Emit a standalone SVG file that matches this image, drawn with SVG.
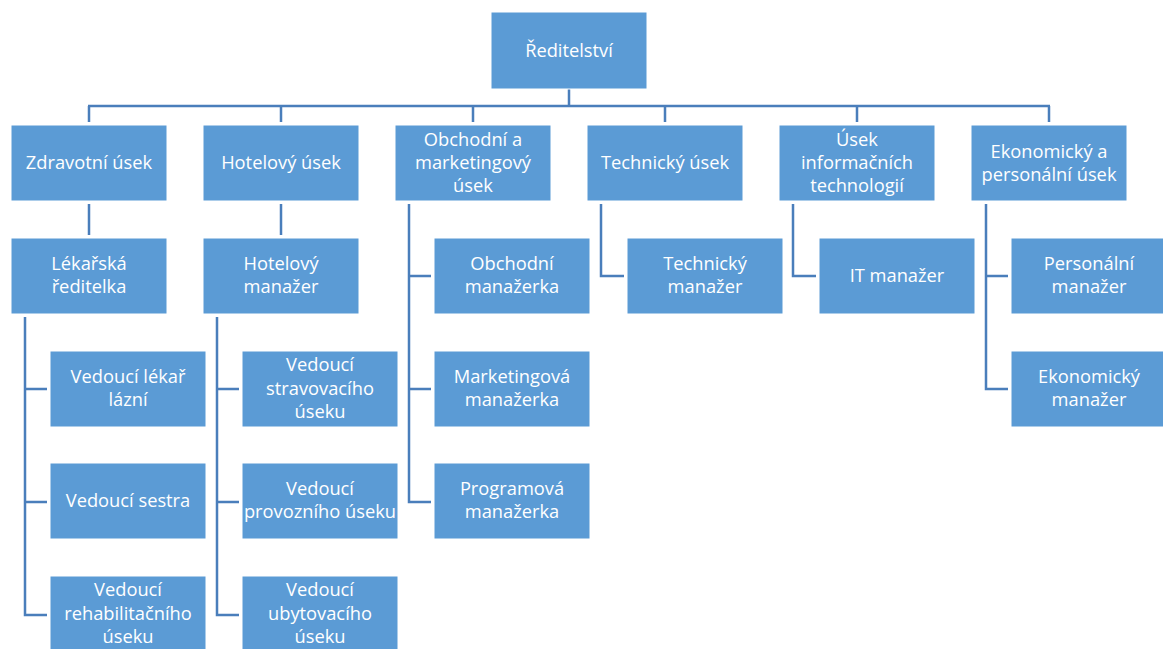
<svg xmlns="http://www.w3.org/2000/svg" width="1163" height="649" viewBox="0 0 1163 649">
<style>
.b{fill:#5B9BD5;stroke:#ffffff;stroke-width:1}
.t{font-family:"Open Sans","Liberation Sans",sans-serif;font-size:18.3px;fill:#ffffff;text-anchor:middle}
.c{fill:none;stroke:#4A7EBB;stroke-width:2.5}
</style>
<g id="connectors">
<path class="c" d="M569 89V106M88 106H1050M89 106V122M281 106V122M473 106V122M665 106V122M857 106V122M1049 106V122"/>
<path class="c" d="M89 204V235M281 204V235"/>
<path class="c" d="M25 317V615H47M25 389H47M25 502H47"/>
<path class="c" d="M217 317V615H239M217 389H239M217 502H239"/>
<path class="c" d="M409 204V502H431M409 276H431M409 389H431"/>
<path class="c" d="M601 204V276H624"/>
<path class="c" d="M793 204V276H816"/>
<path class="c" d="M986 204V389H1008M986 276H1008"/>
</g>
<g id="n-reditelstvi"><rect class="b" x="491" y="12" width="156" height="77"/><text class="t" x="569" y="57">Ředitelství</text></g>
<g id="n-zdravotni"><rect class="b" x="11" y="125" width="156" height="76"/><text class="t" x="89" y="169">Zdravotní úsek</text></g>
<g id="n-hotelovy"><rect class="b" x="203" y="125" width="156" height="76"/><text class="t" x="281" y="169">Hotelový úsek</text></g>
<g id="n-obchodni"><rect class="b" x="395" y="125" width="156" height="76"/><text class="t" x="473" y="146">Obchodní a</text><text class="t" x="473" y="169">marketingový</text><text class="t" x="473" y="192">úsek</text></g>
<g id="n-technicky"><rect class="b" x="587" y="125" width="156" height="76"/><text class="t" x="665" y="169">Technický úsek</text></g>
<g id="n-it"><rect class="b" x="779" y="125" width="156" height="76"/><text class="t" x="857" y="146">Úsek</text><text class="t" x="857" y="169">informačních</text><text class="t" x="857" y="192">technologií</text></g>
<g id="n-ekonomicky"><rect class="b" x="971" y="125" width="156" height="76"/><text class="t" x="1049" y="158">Ekonomický a</text><text class="t" x="1049" y="181">personální úsek</text></g>
<g id="n-lekarska"><rect class="b" x="11" y="238" width="156" height="76"/><text class="t" x="89" y="270">Lékařská</text><text class="t" x="89" y="293">ředitelka</text></g>
<g id="n-hotelovy-manazer"><rect class="b" x="203" y="238" width="156" height="76"/><text class="t" x="281" y="270">Hotelový</text><text class="t" x="281" y="293">manažer</text></g>
<g id="n-obchodni-manazerka"><rect class="b" x="434" y="238" width="156" height="76"/><text class="t" x="512" y="270">Obchodní</text><text class="t" x="512" y="293">manažerka</text></g>
<g id="n-technicky-manazer"><rect class="b" x="627" y="238" width="156" height="76"/><text class="t" x="705" y="270">Technický</text><text class="t" x="705" y="293">manažer</text></g>
<g id="n-it-manazer"><rect class="b" x="819" y="238" width="156" height="76"/><text class="t" x="897" y="282">IT manažer</text></g>
<g id="n-personalni"><rect class="b" x="1011" y="238" width="156" height="76"/><text class="t" x="1089" y="270">Personální</text><text class="t" x="1089" y="293">manažer</text></g>
<g id="n-vedouci-lekar"><rect class="b" x="50" y="351" width="156" height="76"/><text class="t" x="128" y="383">Vedoucí lékař</text><text class="t" x="128" y="406">lázní</text></g>
<g id="n-vedouci-sestra"><rect class="b" x="50" y="463" width="156" height="76"/><text class="t" x="128" y="507">Vedoucí sestra</text></g>
<g id="n-vedouci-rehab"><rect class="b" x="50" y="576" width="156" height="76"/><text class="t" x="128" y="596">Vedoucí</text><text class="t" x="128" y="620">rehabilitačního</text><text class="t" x="128" y="643">úseku</text></g>
<g id="n-vedouci-strav"><rect class="b" x="242" y="351" width="156" height="76"/><text class="t" x="320" y="371">Vedoucí</text><text class="t" x="320" y="395">stravovacího</text><text class="t" x="320" y="418">úseku</text></g>
<g id="n-vedouci-provoz"><rect class="b" x="242" y="463" width="156" height="76"/><text class="t" x="320" y="495">Vedoucí</text><text class="t" x="320" y="518">provozního úseku</text></g>
<g id="n-vedouci-ubyt"><rect class="b" x="242" y="576" width="156" height="76"/><text class="t" x="320" y="596">Vedoucí</text><text class="t" x="320" y="620">ubytovacího</text><text class="t" x="320" y="643">úseku</text></g>
<g id="n-marketingova"><rect class="b" x="434" y="351" width="156" height="76"/><text class="t" x="512" y="383">Marketingová</text><text class="t" x="512" y="406">manažerka</text></g>
<g id="n-programova"><rect class="b" x="434" y="463" width="156" height="76"/><text class="t" x="512" y="495">Programová</text><text class="t" x="512" y="518">manažerka</text></g>
<g id="n-ekonomicky-manazer"><rect class="b" x="1011" y="351" width="156" height="76"/><text class="t" x="1089" y="383">Ekonomický</text><text class="t" x="1089" y="406">manažer</text></g>
</svg>
